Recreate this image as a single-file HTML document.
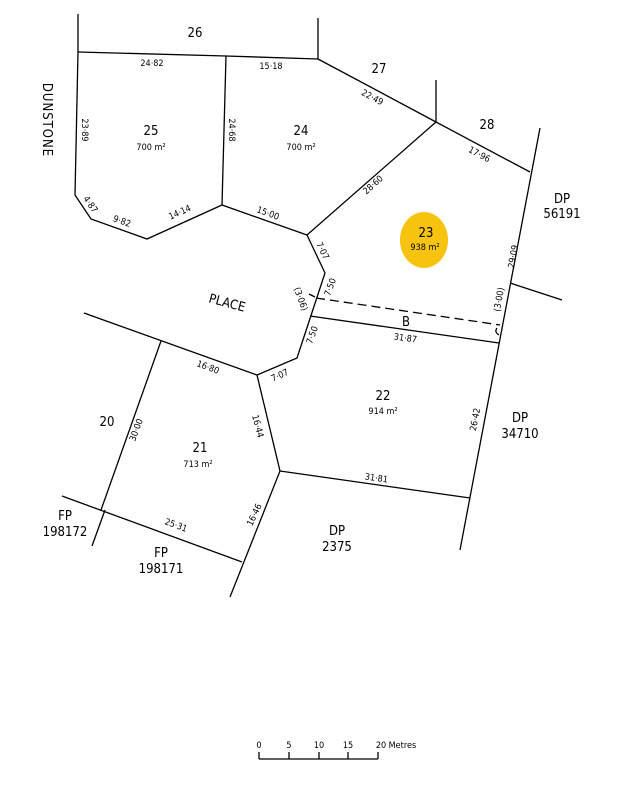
<!DOCTYPE html>
<html><head><meta charset="utf-8"><style>
html,body{margin:0;padding:0;background:#fff}
svg{display:block}
text{font-family:"DejaVu Sans Condensed","Liberation Sans",sans-serif;fill:#000}
.s{font-size:9px}
.m{font-size:13px}
</style></head><body>
<svg width="627" height="786" viewBox="0 0 627 786" xmlns="http://www.w3.org/2000/svg">
<ellipse cx="424" cy="240" rx="24" ry="28" fill="#f7c30f"/>
<g stroke="#000" stroke-width="1.3" fill="none">
<line x1="78" y1="14" x2="78" y2="52"/>
<polyline points="78,52 226,56 318,59"/>
<line x1="318" y1="18" x2="318" y2="59"/>
<polyline points="318,59 436,122 530,172"/>
<line x1="436" y1="80" x2="436" y2="122"/>
<line x1="540" y1="128" x2="460" y2="550"/>
<polyline points="78,52 75,195 91,219 147,239 222,205 307,235 436,122"/>
<line x1="226" y1="56" x2="222" y2="205"/>
<polyline points="307,235 325,273 297,358 257,375 280,471 230,597"/>
<line x1="310" y1="316" x2="499" y2="343"/>
<line x1="316" y1="298" x2="500" y2="325" stroke-dasharray="9,5"/>
<line x1="510" y1="283" x2="562" y2="300"/>
<line x1="84" y1="313" x2="257" y2="375"/>
<line x1="161" y1="341" x2="101" y2="510"/>
<line x1="280" y1="471" x2="470" y2="498"/>
<line x1="62" y1="496" x2="242" y2="562"/>
<line x1="105" y1="510" x2="92" y2="546"/>
<path d="M315,297 l-6,-3 M497,328 q-3,4 2,7"/>
<line x1="259" y1="759" x2="378" y2="759"/>
<line x1="259" y1="752" x2="259" y2="759"/><line x1="289" y1="752" x2="289" y2="759"/>
<line x1="319" y1="752" x2="319" y2="759"/><line x1="348" y1="752" x2="348" y2="759"/>
<line x1="378" y1="752" x2="378" y2="759"/>
</g>
<g class="m" text-anchor="middle">
<text x="195" y="37">26</text><text x="379" y="73">27</text><text x="487" y="129">28</text>
<text x="151" y="135">25</text><text x="301" y="135">24</text><text x="426" y="237">23</text>
<text x="383" y="400">22</text><text x="200" y="452">21</text><text x="107" y="426">20</text>
<text x="562" y="203">DP</text><text x="562" y="218">56191</text>
<text x="520" y="422">DP</text><text x="520" y="438">34710</text>
<text x="65" y="520">FP</text><text x="65" y="536">198172</text>
<text x="161" y="557">FP</text><text x="161" y="573">198171</text>
<text x="337" y="535">DP</text><text x="337" y="551">2375</text>
<text x="406" y="326">B</text>
<text transform="translate(226,307) rotate(15)">PLACE</text>
<text transform="translate(43,120) rotate(90)" letter-spacing="1">DUNSTONE</text>
</g>
<g class="s" text-anchor="middle">
<text x="151" y="150">700 m²</text><text x="301" y="150">700 m²</text>
<text x="425" y="250">938 m²</text><text x="383" y="414">914 m²</text><text x="198" y="467">713 m²</text>
<text x="152" y="66">24·82</text><text x="271" y="69">15·18</text>
<text transform="translate(371,100) rotate(28)">22·49</text>
<text transform="translate(478,157) rotate(28)">17·96</text>
<text transform="translate(82,130) rotate(90)">23·89</text>
<text transform="translate(229,130) rotate(90)">24·68</text>
<text transform="translate(88,206) rotate(55)">4·87</text>
<text x="121" y="224" transform="rotate(20,121,224)">9·82</text>
<text transform="translate(181,215) rotate(-24)">14·14</text>
<text transform="translate(267,216) rotate(20)">15·00</text>
<text transform="translate(375,187) rotate(-42)">28·60</text>
<text transform="translate(320,252) rotate(64)">7·07</text>
<text transform="translate(333,288) rotate(-70)">7·50</text>
<text transform="translate(298,300) rotate(70)">(3·06)</text>
<text transform="translate(315,336) rotate(-70)">7·50</text>
<text transform="translate(516,257) rotate(-80)">29·09</text>
<text transform="translate(502,300) rotate(-80)">(3·00)</text>
<text transform="translate(405,341) rotate(8)">31·87</text>
<text transform="translate(207,370) rotate(20)">16·80</text>
<text transform="translate(281,378) rotate(-25)">7·07</text>
<text transform="translate(255,427) rotate(75)">16·44</text>
<text transform="translate(139,431) rotate(-70)">30·00</text>
<text transform="translate(478,420) rotate(-79)">26·42</text>
<text transform="translate(376,481) rotate(8)">31·81</text>
<text transform="translate(175,528) rotate(20)">25·31</text>
<text transform="translate(257,516) rotate(-65)">16·46</text>
<text x="259" y="748">0</text><text x="289" y="748">5</text><text x="319" y="748">10</text>
<text x="348" y="748">15</text><text x="396" y="748">20 Metres</text>
</g>
</svg>
</body></html>
